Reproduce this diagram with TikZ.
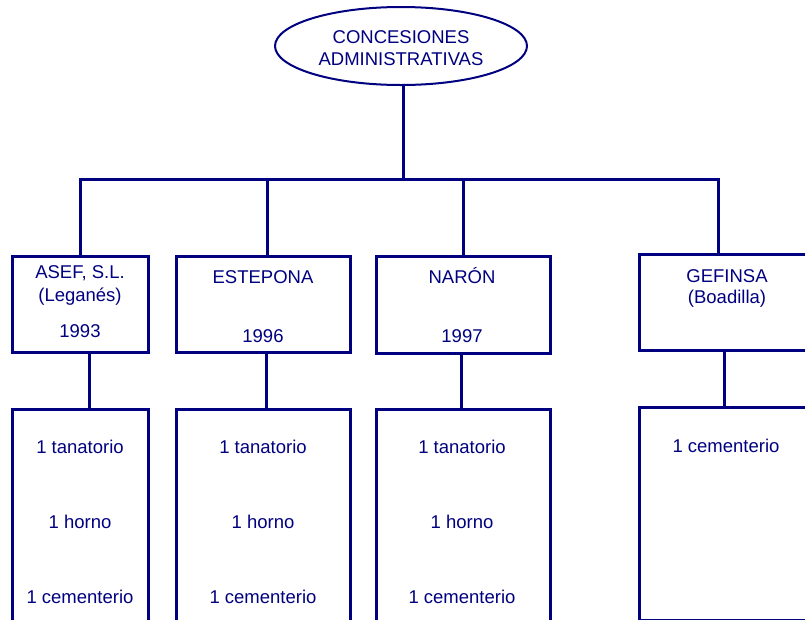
\documentclass[tikz,border=0pt]{standalone}
\usepackage{fontspec}
\setmainfont{Liberation Sans}
\usetikzlibrary{shapes.geometric}
\definecolor{navy}{RGB}{0,0,128}
\begin{document}
\begin{tikzpicture}[x=1pt,y=-1pt,
  conn/.style={draw=navy, line width=3pt},
  box/.style={draw=navy, line width=3pt, rectangle, inner sep=0pt},
  oval/.style={draw=navy, line width=2pt, ellipse, inner sep=0pt},
  lbl/.style={text=navy, font=\fontsize{18.5}{21}\selectfont, inner sep=0pt, anchor=base}]
\useasboundingbox (0,0) rectangle (805,619);
\clip (0,0) rectangle (805,619);
\fill[white] (0,0) rectangle (805,619);

% top ellipse
\node[oval, minimum width=252pt, minimum height=78pt] (top) at (401,46) {};
\node[lbl] (t1) at (401,43) {CONCESIONES};
\node[lbl] (t2) at (401,65) {ADMINISTRATIVAS};

% upper boxes
\node[box, minimum width=136pt, minimum height=96pt] (asef) at (80,304) {};
\node[box, minimum width=174pt, minimum height=96pt] (estepona) at (263,304) {};
\node[box, minimum width=174pt, minimum height=97pt] (naron) at (463,304.5) {};
\node[box, minimum width=240pt, minimum height=96pt] (gefinsa) at (759,302) {};

\node[lbl] (a1) at (80,278) {ASEF, S.L.};
\node[lbl] (a2) at (80,301) {(Leganés)};
\node[lbl] (a3) at (80,337) {1993};
\node[lbl] (e1) at (263,283) {ESTEPONA};
\node[lbl] (e2) at (263,342) {1996};
\node[lbl] (n1) at (462,283) {NARÓN};
\node[lbl] (n2) at (462,342) {1997};
\node[lbl] (g1) at (727,282) {GEFINSA};
\node[lbl] (g2) at (727,303) {(Boadilla)};

% lower boxes
\node[box, minimum width=136pt, minimum height=260pt] (asefL) at (80,539) {};
\node[box, minimum width=174pt, minimum height=260pt] (esteponaL) at (263,539) {};
\node[box, minimum width=174pt, minimum height=260pt] (naronL) at (463,539) {};
\node[box, minimum width=240pt, minimum height=213pt] (gefinsaL) at (759,513.5) {};

\node[lbl] (al1) at (80,453) {1 tanatorio};
\node[lbl] (al2) at (80,528) {1 horno};
\node[lbl] (al3) at (80,603) {1 cementerio};
\node[lbl] (el1) at (263,453) {1 tanatorio};
\node[lbl] (el2) at (263,528) {1 horno};
\node[lbl] (el3) at (263,603) {1 cementerio};
\node[lbl] (nl1) at (462,453) {1 tanatorio};
\node[lbl] (nl2) at (462,528) {1 horno};
\node[lbl] (nl3) at (462,603) {1 cementerio};
\node[lbl] (gl1) at (726,452) {1 cementerio};

% connectors
\coordinate (hub) at (403,179);
\coordinate (busL) at (80,179);
\coordinate (busR) at (718,179);
\coordinate (d2) at (267,179);
\coordinate (d3) at (463,179);
\draw[conn] (hub |- top.south) -- (hub);
\draw[conn, line cap=rect] (busL) -- (busR);
\draw[conn] (busL) -- (asef.north);
\draw[conn] (d2) -- (d2 |- estepona.north);
\draw[conn] (d3) -- (d3 |- naron.north);
\draw[conn] (busR) -- (busR |- gefinsa.north);

\coordinate (b1) at (89,0);
\coordinate (b2) at (266,0);
\coordinate (b3) at (461,0);
\coordinate (b4) at (724,0);
\draw[conn] (b1 |- asef.south) -- (b1 |- asefL.north);
\draw[conn] (b2 |- estepona.south) -- (b2 |- esteponaL.north);
\draw[conn] (b3 |- naron.south) -- (b3 |- naronL.north);
\draw[conn] (b4 |- gefinsa.south) -- (b4 |- gefinsaL.north);
\end{tikzpicture}
\end{document}
